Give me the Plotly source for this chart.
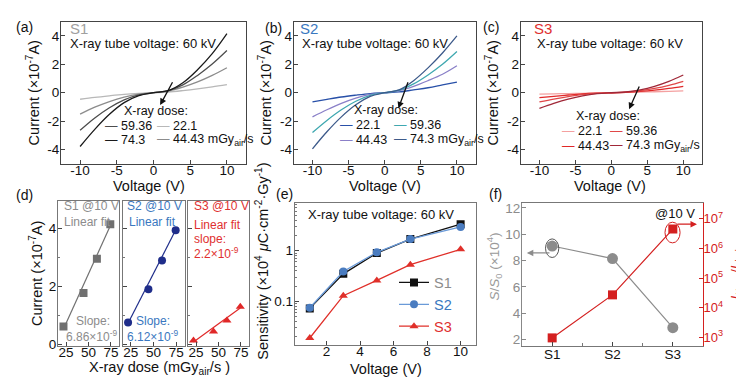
import plotly.graph_objects as go

W, H = 744, 382
def px(x): return x / W
def py(y): return 1 - y / H

# ---------------- data ----------------
V = [-10, -8, -6, -4, -2, 0, 2, 4, 6, 8, 10]
dose_labels = ["22.1", "44.43", "59.36", "74.3"]

# (a) S1 I-V (x1e-7 A)
s1_221 = [-0.46, -0.33, -0.22, -0.12, -0.05, 0, 0.05, 0.15, 0.27, 0.41, 0.57]
s1_444 = [-1.51, -1.02, -0.62, -0.31, -0.10, 0, 0.12, 0.40, 0.76, 1.22, 1.76]
s1_594 = [-2.65, -1.78, -1.06, -0.50, -0.15, 0, 0.14, 0.55, 1.22, 2.02, 2.97]
s1_743 = [-3.79, -2.58, -1.52, -0.70, -0.20, 0, 0.14, 0.70, 1.62, 2.75, 4.16]

# (b) S2 I-V
s2_221 = [-0.65, -0.47, -0.30, -0.17, -0.06, 0, 0.06, 0.20, 0.35, 0.55, 0.75]
s2_444 = [-1.70, -1.20, -0.75, -0.38, -0.12, 0, 0.15, 0.45, 0.85, 1.30, 1.90]
s2_594 = [-2.80, -1.95, -1.20, -0.60, -0.18, 0, 0.18, 0.62, 1.25, 2.00, 2.90]
s2_743 = [-3.95, -2.75, -1.70, -0.85, -0.25, 0, 0.20, 0.85, 1.75, 2.80, 4.00]

# (c) S3 I-V
s3_221 = [-0.10, -0.08, -0.06, -0.04, -0.02, 0, 0.02, 0.04, 0.07, 0.10, 0.13]
s3_444 = [-0.35, -0.25, -0.16, -0.08, -0.03, 0, 0.03, 0.09, 0.18, 0.30, 0.45]
s3_594 = [-0.65, -0.45, -0.28, -0.14, -0.05, 0, 0.04, 0.14, 0.30, 0.52, 0.80]
s3_743 = [-1.10, -0.75, -0.45, -0.22, -0.07, 0, 0.05, 0.20, 0.45, 0.80, 1.25]

# (d) current at 10 V vs dose
dose = [22.1, 44.43, 59.36, 74.3]
d_s1 = [0.61, 1.77, 2.96, 4.15]
d_s2 = [0.75, 1.90, 2.90, 3.94]
d_s3 = [0.12, 0.44, 0.82, 1.29]
fit_x = [22.1, 74.3]
fit_s1 = [0.52, 4.10]
fit_s2 = [0.72, 3.95]
fit_s3 = [0.07, 1.25]

# (e) sensitivity vs voltage
e_v = [1, 3, 5, 7, 10]
e_s1 = [0.073, 0.35, 0.90, 1.70, 3.35]
e_s2 = [0.075, 0.39, 0.93, 1.70, 2.95]
e_s3 = [0.019, 0.13, 0.26, 0.53, 1.07]

# (f)
samples = ["S1", "S2", "S3"]
ss0 = [9.1, 8.15, 2.9]
ratio = [950, 2.7e4, 4.5e6]

# ---------------- style ----------------
FONT = "Liberation Sans, Arial, sans-serif"
TICK = dict(size=13.5, color="#111")
TITLE = dict(size=14.5, color="#111")
GRAY, BLUE, RED = "#8c8c8c", "#3a78c0", "#e03030"
FRAME = "#444"

fig = go.Figure()

def base_axis(**kw):
    d = dict(showline=True, mirror=True, linecolor=FRAME, linewidth=1,
             ticks="inside", ticklen=4, tickcolor=FRAME, showgrid=False,
             zeroline=False, tickfont=TICK)
    d.update(kw)
    return d

layout = dict(width=W, height=H, margin=dict(l=0, r=0, t=0, b=0),
              plot_bgcolor="white", paper_bgcolor="white",
              font=dict(family=FONT, color="#111"), showlegend=True)

iv_xt = dict(tickvals=[-10, -5, 0, 5, 10], ticktext=["-10", "-5", "0", "5", "10"])
iv_yt = dict(tickvals=[-4, -2, 0, 2, 4], ticktext=["-4", "-2", "0", "2", "4"])
iv_dom_y = [py(157), py(12)]
iv_dom_x = [[px(53), px(238)], [px(285.7), px(467.7)], [px(512.7), px(694)]]

iv_sets = [
    ([s1_221, s1_444, s1_594, s1_743], ["#b8b8b8", "#8c8c8c", "#4d4d4d", "#1a1a1a"]),
    ([s2_221, s2_444, s2_594, s2_743], ["#2850a8", "#8a80c8", "#3fa8b0", "#3d5a8a"]),
    ([s3_221, s3_444, s3_594, s3_743], ["#f4a0a0", "#e02828", "#e04848", "#a02838"]),
]

for i, (curves, cols) in enumerate(iv_sets):
    n = i + 1
    for c, col, lab in zip(curves, cols, dose_labels):
        fig.add_trace(go.Scatter(x=V, y=c, mode="lines", line=dict(color=col, width=1.3, shape="spline"),
                                 xaxis=f"x{n}", yaxis=f"y{n}", showlegend=False, name=lab))
    layout[f"xaxis{n}"] = base_axis(domain=iv_dom_x[i], range=[-12.6, 12.6], anchor=f"y{n}",
                                    ticklabelstandoff=-6, **iv_xt)
    layout[f"yaxis{n}"] = base_axis(domain=iv_dom_y, range=[-5, 5], anchor=f"x{n}", ticklabelstandoff=-2,
                                    title=dict(text="Current (×10<sup>-7</sup>A)", font=TITLE, standoff=4), **iv_yt)

# (d)
d_dom_y = [py(343), py(195)]
d_dom_x = [[px(50), px(111)], [px(114.5), px(176.5)], [px(180), px(241)]]
d_sets = [(d_s1, fit_s1, "#707070", "#707070", "square"),
          (d_s2, fit_s2, "#1f2d8a", "#1f2d8a", "circle"),
          (d_s3, fit_s3, "#e02828", "#e02828", "triangle-up")]
for i, (ys, fy, mc, lc, sym) in enumerate(d_sets):
    n = 4 + i
    fig.add_trace(go.Scatter(x=fit_x, y=fy, mode="lines", line=dict(color=lc, width=1.2),
                             xaxis=f"x{n}", yaxis=f"y{n}", showlegend=False))
    fig.add_trace(go.Scatter(x=dose, y=ys, mode="markers", marker=dict(color=mc, size=8, symbol=sym),
                             xaxis=f"x{n}", yaxis=f"y{n}", showlegend=False))
    layout[f"xaxis{n}"] = base_axis(domain=d_dom_x[i], range=[16, 84], anchor=f"y{n}", tickvals=[25, 50, 75],
                                    linecolor="#777", ticklabelstandoff=-6)
    layout[f"yaxis{n}"] = base_axis(domain=d_dom_y, range=[-0.06, 4.96], anchor=f"x{n}",
                                    tickvals=[0, 2, 4], showticklabels=(n == 4), linecolor="#777",
                                    ticklabelstandoff=-2,
                                    minor=dict(ticks="inside", ticklen=2, tickvals=[1, 3], tickcolor="#777"))
layout["yaxis4"]["title"] = dict(text="Current (×10<sup>-7</sup>A)", font=TITLE, standoff=2)

# (e)
e_specs = [("S1", e_s1, "#111", "#111", "square", GRAY),
           ("S2", e_s2, "#6a9ad8", "#4a7cc0", "circle", BLUE),
           ("S3", e_s3, "#e0302a", "#e0302a", "triangle-up", RED)]
for name, ys, lc, mc, sym, tc in e_specs:
    fig.add_trace(go.Scatter(x=e_v, y=ys, mode="lines+markers",
                             line=dict(color=lc, width=1.3), marker=dict(color=mc, size=8, symbol=sym),
                             xaxis="x7", yaxis="y7", name=f'<span style="color:{tc}">{name}</span>'))
layout["xaxis7"] = base_axis(domain=[px(286.7), px(467.7)], range=[0.1, 10.9], anchor="y7",
                             tickvals=[2, 4, 6, 8, 10], linecolor="#777", ticklabelstandoff=-6)
layout["yaxis7"] = base_axis(domain=[py(341.7), py(196.7)], type="log", range=[-1.85, 0.95], anchor="x7",
                             tickvals=[0.1, 1], ticktext=["0.1", "1"], linecolor="#777", ticklabelstandoff=-2,
                             minor=dict(ticks="inside", ticklen=2, tickcolor="#777",
                                        tickvals=[0.02, 0.03, 0.04, 0.05, 0.06, 0.07, 0.08, 0.09,
                                                  0.2, 0.3, 0.4, 0.5, 0.6, 0.7, 0.8, 0.9,
                                                  2, 3, 4, 5, 6, 7, 8]))
layout["legend"] = dict(x=px(386), y=py(262), xanchor="left", yanchor="top",
                        bgcolor="rgba(0,0,0,0)", font=dict(size=14.5), itemwidth=30,
                        tracegroupgap=0)

# (f)
xs = [0, 1, 2]
fig.add_trace(go.Scatter(x=xs, y=ss0, mode="lines+markers", line=dict(color="#8c8c8c", width=1.2),
                         marker=dict(color="#8c8c8c", size=11, symbol="circle"),
                         xaxis="x8", yaxis="y8", showlegend=False))
fig.add_trace(go.Scatter(x=xs, y=ratio, mode="lines+markers", line=dict(color="#d42020", width=1.2),
                         marker=dict(color="#d42020", size=9, symbol="square"),
                         xaxis="x8", yaxis="y9", showlegend=False))
layout["xaxis8"] = base_axis(domain=[px(514), px(695)], range=[-0.5, 2.5], anchor="y8",
                             tickvals=xs, ticktext=samples, linecolor="#777", ticklabelstandoff=-4,
                             minor=dict(ticks="inside", ticklen=3, tickvals=[0.5, 1.5], tickcolor="#777"))
layout["yaxis8"] = base_axis(domain=[py(343.3), py(196.7)], range=[1.5, 12.4], anchor="x8", mirror=False,
                             tickvals=[2, 4, 6, 8, 10, 12], linecolor="#888", tickcolor="#888",
                             ticklabelstandoff=-2, tickfont=dict(size=13.5, color="#8c8c8c"))
layout["yaxis9"] = base_axis(overlaying="y8", side="right", anchor="x8", type="log", range=[2.7, 7.55],
                             mirror=False, linecolor="#d42020", tickcolor="#d42020",
                             tickvals=[1e3, 1e4, 1e5, 1e6, 1e7], ticklabelstandoff=-3,
                             ticktext=["10<sup>3</sup>", "10<sup>4</sup>", "10<sup>5</sup>", "10<sup>6</sup>", "10<sup>7</sup>"],
                             tickfont=dict(size=13, color="#d42020"))

# ---------------- annotations ----------------
ann = []
def txt(x, y, s, size=13, color="#111", xa="left", ya="middle", angle=0):
    ann.append(dict(x=px(x), y=py(y), xref="paper", yref="paper", text=s, showarrow=False,
                    xanchor=xa, yanchor=ya, textangle=angle, font=dict(size=size, color=color)))

def dash(col):
    return f'<span style="color:{col}">—</span>'

# panel labels
for lab, x, y in [("(a)", 16, 17), ("(b)", 265, 18), ("(c)", 483, 17),
                  ("(d)", 16, 189), ("(e)", 276, 188), ("(f)", 487, 188)]:
    txt(x, y, lab, size=14, xa="center")

# x-axis titles
for x, y, s in [(141, 180, "Voltage (V)"), (377, 180, "Voltage (V)"), (602, 180, "Voltage (V)"),
                (151, 366, "X-ray dose (mGy<sub>air</sub>/s )"), (378, 367, "Voltage (V)")]:
    txt(x, y, s, size=14.5, xa="center")

# (a)
c1 = iv_sets[0][1]
txt(60, 19, "S1", size=15, color="#a0a0a0")
txt(60, 34, "X-ray tube voltage: 60 kV")
txt(148, 103, "X-ray dose:", size=12.5, xa="center")
txt(95, 118, dash(c1[2]) + " 59.36", size=12.5)
txt(147, 118, dash(c1[0]) + " 22.1", size=12.5)
txt(95, 133, dash(c1[3]) + " 74.3", size=12.5)
txt(147, 133, dash(c1[1]) + " 44.43 mGy<sub>air</sub>/s", size=12.5)
# (b)
c2 = iv_sets[1][1]
txt(290, 19, "S2", size=15, color=BLUE)
txt(292, 34, "X-ray tube voltage: 60 kV")
txt(378, 102, "X-ray dose:", size=12.5, xa="center")
txt(330, 117, dash(c2[0]) + " 22.1", size=12.5)
txt(384, 117, dash(c2[2]) + " 59.36", size=12.5)
txt(330, 133, dash(c2[1]) + " 44.43", size=12.5)
txt(384, 133, dash(c2[3]) + " 74.3 mGy<sub>air</sub>/s", size=12.5)
# (c)
c3 = iv_sets[2][1]
txt(524, 19, "S3", size=15, color=RED)
txt(527, 34, "X-ray tube voltage: 60 kV")
txt(600, 108, "X-ray dose:", size=12.5, xa="center")
txt(552, 124, dash(c3[0]) + " 22.1", size=12.5)
txt(600, 124, dash(c3[2]) + " 59.36", size=12.5)
txt(552, 139, dash(c3[1]) + " 44.43", size=12.5)
txt(600, 139, dash(c3[3]) + " 74.3 mGy<sub>air</sub>/s", size=12.5)

# arrows in I-V panels
for n, (hx, hy, tx, ty) in zip([1, 2, 3], [(0.9, -0.87, 2.7, 0.84), (1.9, -1.1, 3.3, 0.84), (2.46, -1.16, 3.97, 0.55)]):
    ann.append(dict(x=hx, y=hy, ax=tx, ay=ty, xref=f"x{n}", yref=f"y{n}", axref=f"x{n}", ayref=f"y{n}",
                    showarrow=True, arrowhead=2, arrowsize=1, arrowwidth=1.3, arrowcolor="#111", text=""))

# (d) texts
txt(54, 200, "S1 @10 V", size=12, color=GRAY)
txt(54, 217, "Linear fit", size=12, color=GRAY)
txt(85, 318, "Slope:", size=12, color=GRAY, xa="center")
txt(84, 333, "6.86×10<sup>-9</sup>", size=12, color=GRAY, xa="center")
txt(117, 200, "S2 @10 V", size=12, color=BLUE)
txt(119, 217, "Linear fit", size=12, color=BLUE)
txt(145, 318, "Slope:", size=12, color=BLUE, xa="center")
txt(145, 333, "6.12×10<sup>-9</sup>", size=12, color=BLUE, xa="center")
txt(184, 200, "S3 @10 V", size=12, color=RED)
txt(184, 220, "Linear fit", size=12, color=RED)
txt(184, 234, "slope:", size=12, color=RED)
txt(184, 248, "2.2×10<sup>-9</sup>", size=12, color=RED)

# (e)
txt(298, 209, "X-ray tube voltage: 60 kV")
txt(254, 256, "Sensitivity (×10<sup>4</sup> <i>μ</i>C·cm<sup>-2</sup>·Gy<sup>-1</sup>)",
    size=14.5, xa="center", angle=-90)

# (f)
txt(486, 262, "<i>S</i>/<i>S</i><sub>0</sub> (×10<sup>4</sup>)", size=13.5, color="#9a9a9a", xa="center", angle=-90)
txt(728, 268, "<i>I</i><sub><i>X-ray</i></sub>/<i>I</i><sub><i>dark</i></sub>", size=13.5, color="#d42020",
    xa="center", angle=-90)
txt(667, 208, "@10 V", size=13, xa="center")
ann.append(dict(x=-0.42, y=8.58, ax=-0.02, ay=8.58, xref="x8", yref="y8", axref="x8", ayref="y8",
                showarrow=True, arrowhead=2, arrowsize=1, arrowwidth=1.3, arrowcolor="#8c8c8c", text=""))
ann.append(dict(x=2.4, y=10.76, ax=2.05, ay=10.76, xref="x8", yref="y8", axref="x8", ayref="y8",
                showarrow=True, arrowhead=2, arrowsize=1, arrowwidth=1.3, arrowcolor="#d42020", text=""))

layout["annotations"] = ann
layout["shapes"] = [
    dict(type="circle", xref="x8", yref="y8", x0=-0.11, x1=0.11, y0=8.23, y1=9.64,
         line=dict(color="#555", width=1)),
    dict(type="circle", xref="x8", yref="y8", x0=1.87, x1=2.12, y0=9.34, y1=10.91,
         line=dict(color="#d42020", width=1)),
]

fig.update_layout(**layout)
fig.write_html("out.html")
